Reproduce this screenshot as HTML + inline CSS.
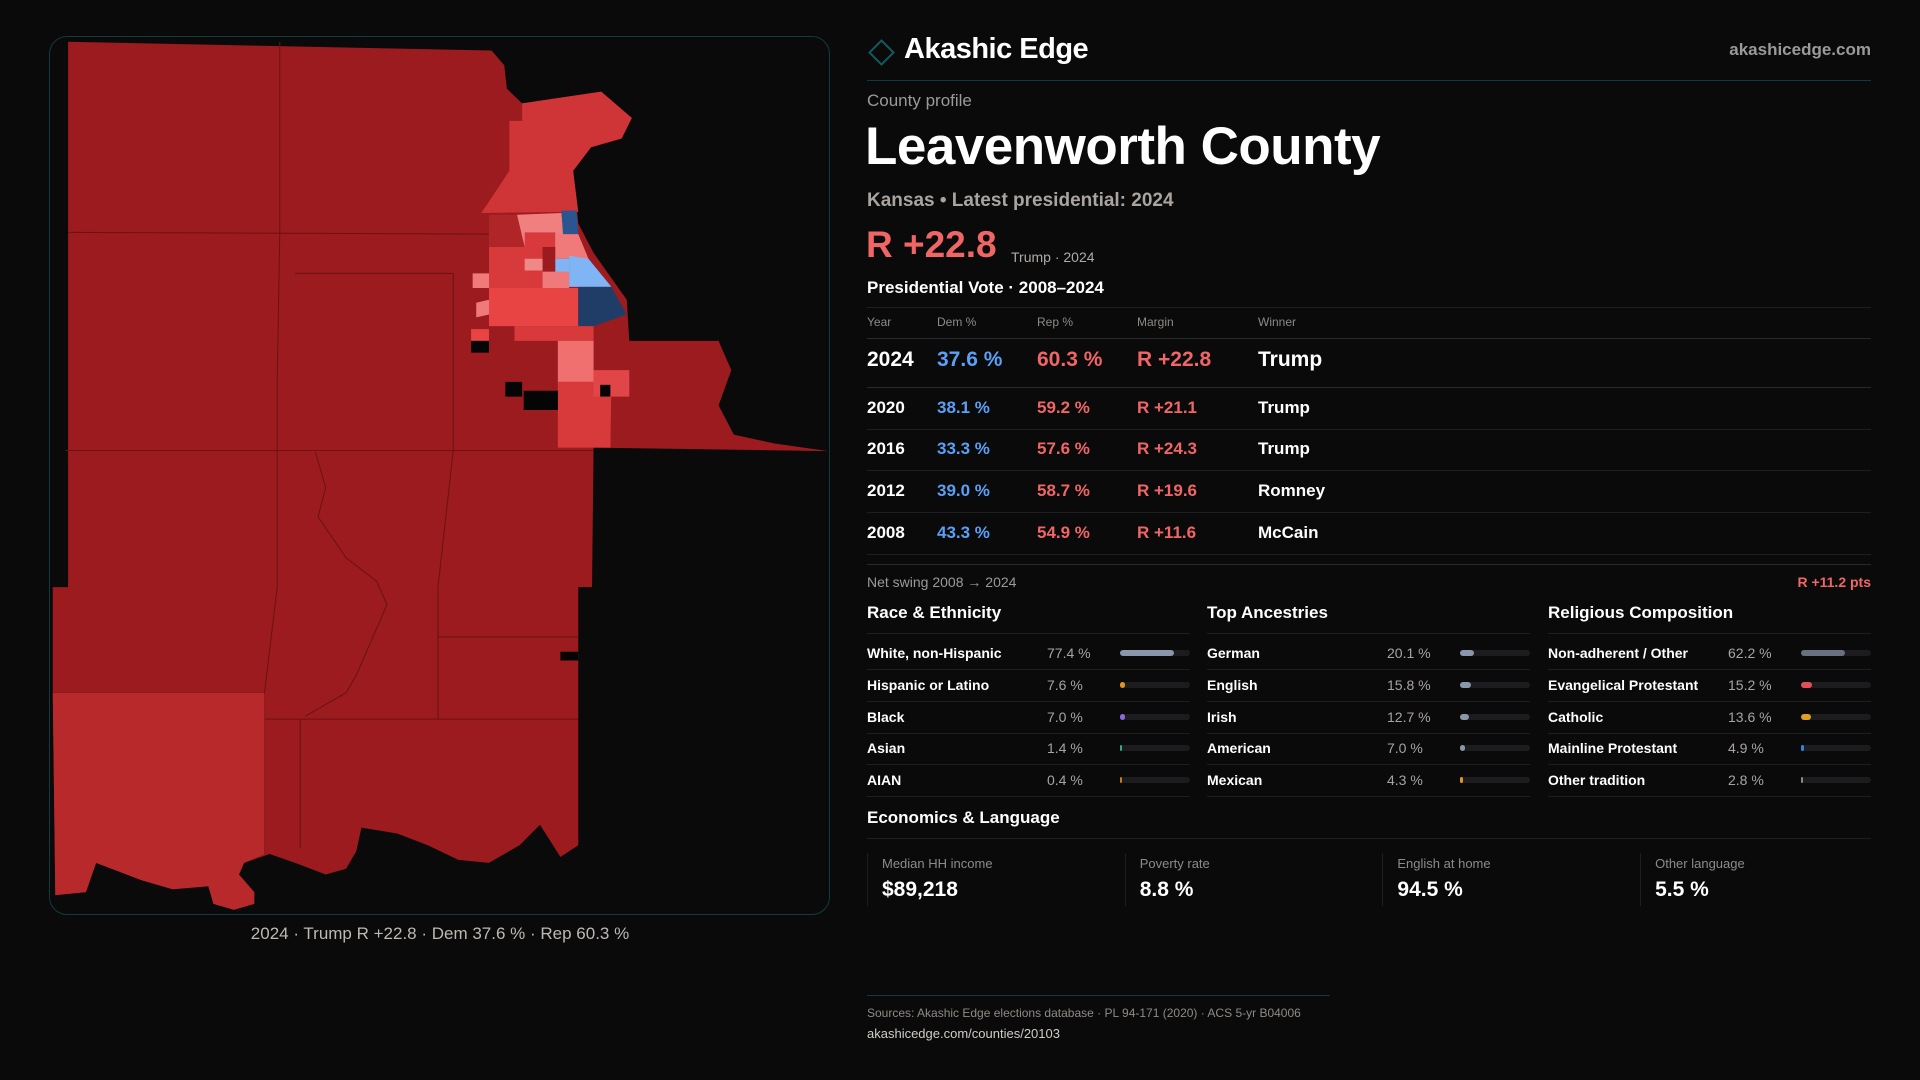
<!DOCTYPE html>
<html><head><meta charset="utf-8"><title>Leavenworth County</title>
<style>
*{margin:0;padding:0;box-sizing:border-box}
html,body{width:1920px;height:1080px;background:#0a0a0b;overflow:hidden;font-family:"Liberation Sans",sans-serif;color:#fff}
.abs{position:absolute;white-space:nowrap}
#map-frame{position:absolute;left:49px;top:36px;width:781px;height:879px;border:1px solid #123a40;border-radius:18px;overflow:hidden;background:#0a0a0b}
.hl{position:absolute;height:1px;background:#1e1e22}
.grey{color:#9a9a9a}
</style></head><body>
<div id="map-frame"></div>
<svg class="abs" style="left:0;top:0" width="1920" height="1080">
<g transform="translate(40,30) scale(0.5102,0.5865)">
<polygon fill="#9b1b1e" points="55,20 885,35 910,60 915,100 945,125 1100,105 1160,150 1140,185 1080,200 1045,240 1055,330 1085,380 1150,460 1155,530 1330,530 1355,580 1330,640 1360,690 1440,705 1545,718 1085,712 1082,950 1055,950 1055,1390 1020,1410 980,1355 940,1390 880,1420 820,1415 760,1390 700,1370 630,1360 620,1400 600,1430 560,1440 500,1420 450,1405 400,1420 390,1440 420,1470 420,1490 380,1500 340,1490 330,1460 260,1465 200,1450 110,1420 90,1470 30,1475 25,1130 25,950 55,950"/>
<g fill="none" stroke="#6a1214" stroke-width="1" vector-effect="non-scaling-stroke">
<polyline vector-effect="non-scaling-stroke" points="55,345 880,348"/>
<polyline vector-effect="non-scaling-stroke" points="50,717 1085,717"/>
<polyline vector-effect="non-scaling-stroke" points="470,20 470,340 465,600 465,950 440,1130 440,1405"/>
<polyline vector-effect="non-scaling-stroke" points="500,415 810,415 810,717 780,950 780,1175"/>
<polyline vector-effect="non-scaling-stroke" points="440,1175 1055,1175"/>
<polyline vector-effect="non-scaling-stroke" points="510,1175 510,1395"/>
<polyline vector-effect="non-scaling-stroke" points="780,1035 1055,1035"/>
<polyline vector-effect="non-scaling-stroke" points="25,1130 440,1130"/>
<polyline vector-effect="non-scaling-stroke" points="540,720 560,780 545,830 600,900 660,940 680,980 650,1040 620,1100 600,1130 520,1170"/>
</g>
<polygon fill="#b8292b" points="25,1130 440,1130 440,1405 400,1420 390,1440 420,1470 420,1490 380,1500 340,1490 330,1460 260,1465 200,1450 110,1420 90,1470 30,1475"/>
<polygon fill="#cf3537" points="945,125 1100,105 1160,150 1140,185 1080,200 1045,240 1055,310 865,312 920,240 920,155 945,155"/>
<polygon fill="#b02628" points="880,315 935,315 950,370 880,370"/>
<polygon fill="#f08080" points="935,315 1022,312 1030,370 950,370"/>
<polygon fill="#d83a3c" points="950,345 1010,345 1010,370 950,370"/>
<polygon fill="#2a5590" points="1022,308 1052,308 1055,348 1025,348"/>
<polygon fill="#f07a7a" points="1010,348 1055,348 1075,390 1037,390 1010,390"/>
<polygon fill="#d83a3c" points="880,370 985,370 985,440 880,440"/>
<polygon fill="#f08888" points="950,390 985,390 985,410 950,410"/>
<polygon fill="#7fb5f5" points="1010,390 1037,390 1037,415 1010,415"/>
<polygon fill="#7fb5f5" points="1037,385 1075,390 1120,438 1037,438"/>
<polygon fill="#f07a7a" points="985,412 1037,412 1037,440 985,440"/>
<polygon fill="#f07a7a" points="848,415 880,415 880,440 848,440"/>
<polygon fill="#e84444" points="880,440 1055,440 1055,505 880,505"/>
<polygon fill="#1f3d66" points="1055,438 1120,438 1150,485 1085,505 1055,505"/>
<polygon fill="#f07a7a" points="855,465 880,460 880,485 855,490"/>
<polygon fill="#e84444" points="845,510 880,510 880,530 845,530"/>
<polygon fill="#d83a3c" points="930,505 1085,505 1085,530 930,530"/>
<polygon fill="#f07070" points="1015,530 1085,530 1085,600 1015,600"/>
<polygon fill="#d83a3c" points="1015,600 1120,600 1118,712 1015,712"/>
<polygon fill="#e04648" points="1085,580 1155,580 1155,625 1085,625"/>
<g fill="#050505">
<polygon points="845,530 880,530 880,550 845,550"/>
<polygon points="912,600 945,600 945,625 912,625"/>
<polygon points="948,615 1015,615 1015,648 948,648"/>
<polygon points="1098,605 1118,605 1118,625 1098,625"/>
<polygon points="1020,1060 1055,1060 1055,1075 1020,1075"/>
</g>
</g>
</svg>
<div class="abs" style="left:0;width:880px;top:924px;text-align:center;font-size:17px;color:#bdb8b4">2024 · Trump R +22.8 · Dem 37.6 % · Rep 60.3 %</div>

<div class="abs" style="left:872px;top:43px;width:19px;height:19px;border:2px solid #135a60;transform:rotate(45deg)"></div>
<div class="abs" style="left:904px;top:33px;font-size:29px;font-weight:bold;letter-spacing:-0.5px">Akashic Edge</div>
<div class="abs" style="right:49px;top:40px;font-size:17px;font-weight:bold;color:#9a9a9a">akashicedge.com</div>
<div class="hl" style="left:867px;width:1004px;top:80px;background:#12393e"></div>
<div class="abs grey" style="left:867px;top:91px;font-size:17px">County profile</div>
<div class="abs" style="left:865px;top:116px;font-size:53px;font-weight:bold;letter-spacing:-0.5px">Leavenworth County</div>
<div class="abs" style="left:867px;top:190px;font-size:19px;font-weight:bold;color:#a9a4a0">Kansas • Latest presidential: 2024</div>
<div class="abs" style="left:866px;top:224px;font-size:37px;font-weight:bold;color:#f06565">R +22.8</div>
<div class="abs grey" style="left:1011px;top:249px;font-size:14px;color:#b0aaa6">Trump · 2024</div>
<div class="abs" style="left:867px;top:278px;font-size:17px;font-weight:bold">Presidential Vote · 2008–2024</div>
<div id="vote-table"></div>

<div class="hl" style="left:867px;width:1004px;top:564px;background:#2a2a2e"></div>
<div class="abs grey" style="left:867px;top:574px;font-size:14px">Net swing 2008 → 2024</div>
<div class="abs" style="right:49px;top:574px;font-size:14px;font-weight:bold;color:#f06565">R +11.2 pts</div>
<div id="demo-blocks"></div>

<div class="abs" style="left:867px;top:808px;font-size:17px;font-weight:bold">Economics &amp; Language</div>
<div class="hl" style="left:867px;width:1004px;top:838px"></div>
<div id="econ"></div>

<div class="hl" style="left:867px;width:463px;top:995px;background:#12393e"></div>
<div class="abs grey" style="left:867px;top:1006px;font-size:12px;color:#8f8a86">Sources: Akashic Edge elections database · PL 94-171 (2020) · ACS 5-yr B04006</div>
<div class="abs" style="left:867px;top:1026px;font-size:13px;color:#d0ccc8">akashicedge.com/counties/20103</div>

<script>
// ---- presidential vote data ----
const years=["2024","2020","2016","2012","2008"];
const demPct=[37.6,38.1,33.3,39.0,43.3];
const repPct=[60.3,59.2,57.6,58.7,54.9];
const margins=["R +22.8","R +21.1","R +24.3","R +19.6","R +11.6"];
const winners=["Trump","Trump","Trump","Romney","McCain"];
// ---- demographics ----
const raceLabels=["White, non-Hispanic","Hispanic or Latino","Black","Asian","AIAN"];
const raceValues=[77.4,7.6,7.0,1.4,0.4];
const ancLabels=["German","English","Irish","American","Mexican"];
const ancValues=[20.1,15.8,12.7,7.0,4.3];
const relLabels=["Non-adherent / Other","Evangelical Protestant","Catholic","Mainline Protestant","Other tradition"];
const relValues=[62.2,15.2,13.6,4.9,2.8];
const econLabels=["Median HH income","Poverty rate","English at home","Other language"];
const econValues=["$89,218","8.8 %","94.5 %","5.5 %"];

const raceColors=["#8a96aa","#e0961a","#8a6ae0","#3aa58a","#c77a20"];
const ancColors=["#8a96aa","#8a96aa","#8a96aa","#8a96aa","#e0961a"];
const relColors=["#6a7080","#e0505a","#e0a020","#3a80e0","#8a8a8a"];

function mk(tag,parent,css,text){const e=document.createElement(tag);e.className='abs';e.style.cssText=css;if(text!==undefined)e.textContent=text;parent.appendChild(e);return e;}
function hl(parent,x,y,w,c){const e=document.createElement('div');e.className='hl';e.style.cssText=`left:${x}px;top:${y}px;width:${w}px;`+(c?`background:${c}`:'');parent.appendChild(e);return e;}

// vote table
const vt=document.getElementById('vote-table');
const colX=[867,937,1037,1137,1258];
hl(vt,867,307,1004);
const heads=["Year","Dem %","Rep %","Margin","Winner"];
heads.forEach((h,i)=>{const e=mk('div',vt,`left:${colX[i]}px;top:315px;font-size:12px;color:#8f8a86`,h);

});
hl(vt,867,338,1004,'#2a2a2e');
const rowY=[361,408,449,491,533];
years.forEach((y,i)=>{
  const big=i===0;const fs=big?21:17;const top=rowY[i]-fs*0.6;
  const vals=[y,demPct[i].toFixed(1)+" %",repPct[i].toFixed(1)+" %",margins[i],winners[i]];
  const cols=["#fff","#5aa0f5","#f06565","#f06565","#fff"];
  vals.forEach((v,j)=>{const e=mk('div',vt,`left:${colX[j]}px;top:${top}px;font-size:${fs}px;font-weight:bold;color:${cols[j]}`,v);
  
  });
  const ly=big?387:rowY[i]+21;
  hl(vt,867,ly,1004,big?'#2a2a2e':null);
});

// demographic blocks
const blocks=[["Race & Ethnicity",raceLabels,raceValues,raceColors,867],["Top Ancestries",ancLabels,ancValues,ancColors,1207],["Religious Composition",relLabels,relValues,relColors,1548]];
const db=document.getElementById('demo-blocks');
const colW=323;
blocks.forEach(b=>{
  const x=b[4];
  const t=mk('div',db,`left:${x}px;top:603px;font-size:17px;font-weight:bold`,b[0]);
  
  
  hl(db,x,633,colW);
  b[1].forEach((lab,i)=>{
    const cy=653+i*31.8;
    const l=mk('div',db,`left:${x}px;top:${cy-8}px;font-size:14px;font-weight:bold`,lab);
    
    
    const v=mk('div',db,`left:${x+180}px;top:${cy-8}px;font-size:14px;color:#a9a4a0`,b[2][i].toFixed(1)+" %");
    
    
    const tr=mk('div',db,`left:${x+253}px;top:${cy-3}px;width:70px;height:6px;border-radius:3px;background:#1c1c1f`);
    
    
    const w=Math.max(1.5,70*b[2][i]/100);
    const f=mk('div',db,`left:${x+253}px;top:${cy-3}px;width:${w}px;height:6px;border-radius:3px;background:${b[3][i]}`);
    
    
    hl(db,x,cy+16,colW);
  });
});

// econ cards
const ec=document.getElementById('econ');
econLabels.forEach((lab,i)=>{
  const x=867+i*257.7;
  const c=mk('div',ec,`left:${x}px;top:853px;width:1px;height:53px;background:#1e1e22`);
  
  
  const l=mk('div',ec,`left:${x+15}px;top:856px;font-size:13px;color:#8f8a86`,lab);
  
  
  const v=mk('div',ec,`left:${x+15}px;top:878px;font-size:21px;font-weight:bold`,econValues[i]);
  
  
});
</script>
</body></html>
